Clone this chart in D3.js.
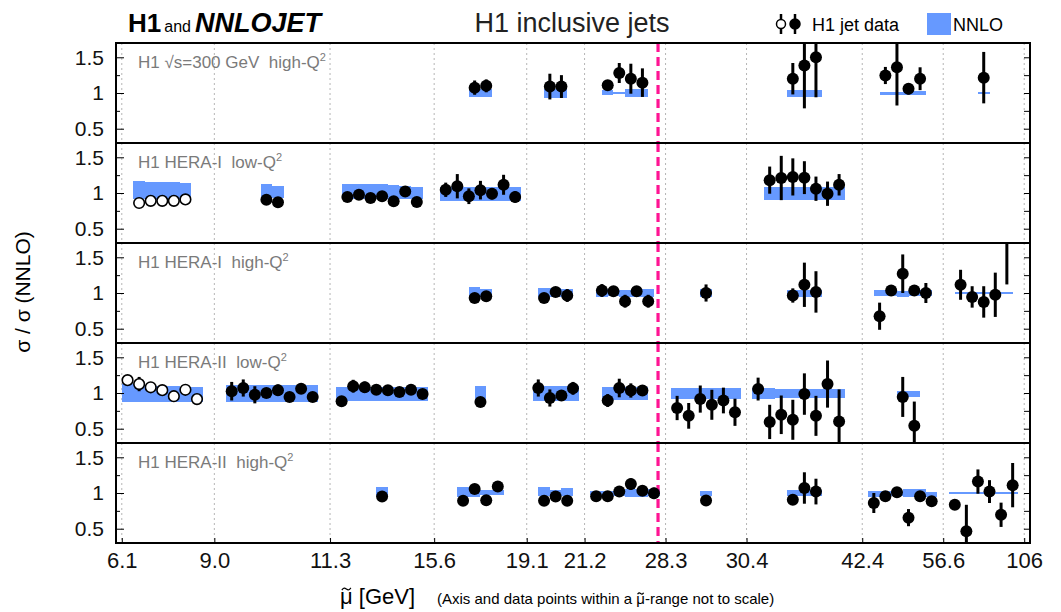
<!DOCTYPE html>
<html>
<head>
<meta charset="utf-8">
<script src="https://d3js.org/d3.v7.min.js"></script>
<style>
  body { margin: 0; background: #fff; }
  svg text { font-family: "Liberation Sans", Arial, Helvetica, sans-serif; }
</style>
</head>
<body>
<div id="chart"></div>
<script>
// mu-tilde bin edges; the axis is not to scale, positions are in "slots" (one slot per data point)
const edgeLabels = ["6.1", "9.0", "11.3", "15.6", "19.1", "21.2", "28.3", "30.4", "42.4", "56.6", "106"];
const edgeSlots = [0, 8, 18, 27, 35, 40, 47, 54, 64, 71, 78];
const scaleLineSlot = 46.35;   // the dashed line just below 28.3 GeV

const panelNames = ["H1 \u221As=300 GeV  high-Q", "H1 HERA-I  low-Q", "H1 HERA-I  high-Q",
                    "H1 HERA-II  low-Q", "H1 HERA-II  high-Q"];

// rows: [slot, data / NNLO, data error, NNLO band low, NNLO band high, open marker]
const h1_300_highQ2 = [
  [30, 1.075, 0.10, 0.94, 1.05], [31, 1.10, 0.09, 0.94, 1.05],
  [36.5, 1.09, 0.18, 0.935, 1.06], [37.5, 1.09, 0.16, 0.935, 1.06],
  [41.5, 1.11, 0.07, 0.97, 1.04], [42.5, 1.28, 0.14, 0.98, 1.01], [43.5, 1.20, 0.21, 0.94, 1.05], [44.5, 1.145, 0.20, 0.94, 1.05],
  [57.5, 1.20, 0.22, 0.95, 1.04], [58.5, 1.385, 0.60, 0.95, 1.04], [59.5, 1.50, 0.56, 0.95, 1.04],
  [65.5, 1.245, 0.12, 0.975, 1.02], [66.5, 1.36, 0.535, 0.975, 1.02], [67.5, 1.06, 0.08, 0.97, 1.03], [68.5, 1.20, 0.16, 0.97, 1.035],
  [74, 1.215, 0.36, 0.985, 1.01]
];
const heraI_lowQ2 = [
  [1, 0.86, 0.03, 0.92, 1.165, 1], [2, 0.89, 0.03, 0.92, 1.16, 1], [3, 0.89, 0.03, 0.92, 1.155, 1],
  [4, 0.89, 0.03, 0.92, 1.15, 1], [5, 0.91, 0.03, 0.92, 1.14, 1],
  [12, 0.905, 0.03, 0.93, 1.12], [13, 0.87, 0.03, 0.93, 1.10],
  [19, 0.945, 0.03, 0.92, 1.13], [20, 0.975, 0.03, 0.92, 1.13], [21, 0.93, 0.03, 0.92, 1.12], [22, 0.955, 0.03, 0.92, 1.12],
  [23, 0.885, 0.03, 0.92, 1.11], [24, 1.02, 0.06, 0.92, 1.10], [25, 0.875, 0.04, 0.92, 1.09],
  [27.5, 1.045, 0.10, 0.89, 1.09], [28.5, 1.095, 0.17, 0.89, 1.09], [29.5, 0.955, 0.11, 0.89, 1.09], [30.5, 1.04, 0.13, 0.89, 1.09],
  [31.5, 0.99, 0.08, 0.89, 1.09], [32.5, 1.115, 0.14, 0.89, 1.09], [33.5, 0.945, 0.08, 0.89, 1.09],
  [55.5, 1.18, 0.19, 0.90, 1.09], [56.5, 1.21, 0.31, 0.90, 1.09], [57.5, 1.225, 0.26, 0.90, 1.09], [58.5, 1.215, 0.23, 0.90, 1.09],
  [59.5, 1.06, 0.17, 0.90, 1.09], [60.5, 0.99, 0.17, 0.90, 1.09], [61.5, 1.115, 0.15, 0.90, 1.09]
];
const heraI_highQ2 = [
  [30, 0.93, 0.03, 0.94, 1.085], [31, 0.955, 0.03, 0.94, 1.055],
  [36, 0.93, 0.04, 0.95, 1.07], [37, 1.015, 0.03, 0.95, 1.07], [38, 0.965, 0.09, 0.95, 1.06],
  [41, 1.035, 0.09, 0.95, 1.06], [42, 1.025, 0.03, 0.96, 1.05], [43, 0.885, 0.09, 0.95, 1.04], [44, 1.025, 0.06, 0.95, 1.06], [45, 0.885, 0.09, 0.94, 1.06],
  [50, 1.0, 0.12, 0.945, 1.055],
  [57.5, 0.965, 0.10, 0.945, 1.045], [58.5, 1.115, 0.31, 0.945, 1.045], [59.5, 1.015, 0.29, 0.945, 1.045],
  [65, 0.675, 0.19, 0.955, 1.045], [66, 1.035, 0.03, 0.955, 1.045], [67, 1.27, 0.27, 0.94, 1.03], [68, 1.035, 0.03, 0.955, 1.045], [69, 1.0, 0.14, 0.955, 1.045],
  [72, 1.115, 0.21, 0.98, 1.01], [73, 0.945, 0.15, 0.98, 1.01], [74, 0.875, 0.22, 0.98, 1.01], [75, 0.975, 0.31, 0.98, 1.01], [76, 1.85, 0.73, 0.98, 1.01]
];
const heraII_lowQ2 = [
  [0, 1.18, 0.04, 0.87, 1.12, 1], [1, 1.125, 0.10, 0.87, 1.12, 1], [2, 1.08, 0.04, 0.87, 1.11, 1], [3, 1.04, 0.04, 0.87, 1.10, 1],
  [4, 0.955, 0.04, 0.87, 1.10, 1], [5, 1.045, 0.04, 0.87, 1.09, 1], [6, 0.915, 0.04, 0.87, 1.09, 1],
  [9, 1.025, 0.13, 0.875, 1.11], [10, 1.07, 0.12, 0.875, 1.11], [11, 0.975, 0.12, 0.875, 1.11], [12, 1.0, 0.07, 0.875, 1.11],
  [13, 1.04, 0.08, 0.875, 1.11], [14, 0.945, 0.06, 0.875, 1.11], [15, 1.06, 0.05, 0.875, 1.11], [16, 0.945, 0.06, 0.875, 1.11],
  [18.5, 0.885, 0.04, 0.89, 1.08], [19.5, 1.095, 0.09, 0.89, 1.08], [20.5, 1.08, 0.08, 0.89, 1.08], [21.5, 1.045, 0.04, 0.89, 1.08],
  [22.5, 1.04, 0.04, 0.89, 1.08], [23.5, 1.015, 0.04, 0.89, 1.08], [24.5, 1.045, 0.04, 0.89, 1.08], [25.5, 0.985, 0.04, 0.89, 1.08],
  [30.5, 0.875, 0.03, 0.905, 1.095],
  [35.5, 1.07, 0.12, 0.89, 1.095], [36.5, 0.93, 0.12, 0.89, 1.095], [37.5, 0.965, 0.05, 0.89, 1.095], [38.5, 1.065, 0.09, 0.89, 1.095],
  [41.5, 0.895, 0.09, 0.905, 1.09], [42.5, 1.07, 0.13, 0.905, 1.09], [43.5, 1.035, 0.10, 0.905, 1.09], [44.5, 1.035, 0.07, 0.905, 1.09],
  [47.5, 0.79, 0.17, 0.91, 1.07], [48.5, 0.68, 0.18, 0.91, 1.07], [49.5, 0.915, 0.19, 0.91, 1.07],
  [50.5, 0.835, 0.21, 0.91, 1.07], [51.5, 0.895, 0.18, 0.91, 1.07], [52.5, 0.73, 0.19, 0.91, 1.07],
  [54.5, 1.055, 0.16, 0.92, 1.07], [55.5, 0.595, 0.24, 0.92, 1.07], [56.5, 0.695, 0.27, 0.93, 1.05], [57.5, 0.625, 0.28, 0.93, 1.05],
  [58.5, 0.985, 0.29, 0.93, 1.05], [59.5, 0.68, 0.28, 0.93, 1.05], [60.5, 1.125, 0.33, 0.93, 1.05], [61.5, 0.60, 0.45, 0.93, 1.05],
  [67, 0.945, 0.28, 0.95, 1.03], [68, 0.54, 0.34, 0.95, 1.03]
];
const heraII_highQ2 = [
  [22, 0.95, 0.03, 0.96, 1.08],
  [29, 0.89, 0.03, 0.95, 1.09], [30, 1.055, 0.03, 0.95, 1.09], [31, 0.90, 0.03, 0.97, 1.04], [32, 1.09, 0.03, 0.97, 1.04],
  [36, 0.89, 0.03, 0.96, 1.08], [37, 0.95, 0.03, 0.96, 1.045], [38, 0.89, 0.03, 0.96, 1.065],
  [40.5, 0.955, 0.03, 0.97, 1.03], [41.5, 0.955, 0.03, 0.97, 1.03], [42.5, 1.02, 0.03, 0.96, 1.03],
  [43.5, 1.125, 0.08, 0.95, 1.06], [44.5, 1.03, 0.03, 0.95, 1.06], [45.5, 0.995, 0.08, 0.96, 1.06],
  [50, 0.895, 0.03, 0.955, 1.03],
  [57.5, 0.905, 0.04, 0.955, 1.045], [58.5, 1.07, 0.22, 0.955, 1.045], [59.5, 1.02, 0.18, 0.955, 1.045],
  [64.5, 0.86, 0.14, 0.95, 1.03], [65.5, 0.955, 0.03, 0.95, 1.03], [66.5, 1.01, 0.03, 0.96, 1.03],
  [67.5, 0.655, 0.12, 0.94, 1.05], [68.5, 0.955, 0.03, 0.94, 1.05], [69.5, 0.885, 0.03, 0.95, 1.02],
  [71.5, 0.835, 0.04, 0.98, 1.015], [72.5, 0.465, 0.37, 0.98, 1.015], [73.5, 1.16, 0.17, 0.98, 1.015],
  [74.5, 1.02, 0.16, 0.98, 1.015], [75.5, 0.695, 0.17, 0.98, 1.015], [76.5, 1.11, 0.31, 0.98, 1.015]
];
const panels = [h1_300_highQ2, heraI_lowQ2, heraI_highQ2, heraII_lowQ2, heraII_highQ2];

const yMajor = [0.5, 1, 1.5];
const yMinor = [0.75, 1.25];

const width = 1061, height = 612;
const plot = {left: 116, right: 1030, top: 43},
  panelH = 100;
const nnloBlue = "#6699ff";

const svg = d3.select("#chart")
  .append("svg")
  .attr("width", width)
  .attr("height", height);

// slot k covers [k, k+1] on this scale, its point sits in the middle
const x = d3.scaleLinear()
  .domain([-0.5, 78.5])
  .range([plot.left, plot.right]);
const mid = s => x(s + 0.5);

panels.forEach(function (rows, i) {
  const top = plot.top + i * panelH;
  const y = d3.scaleLinear().domain([0.3, 1.7]).range([top + panelH, top]);
  const g = svg.append("g");

  svg.append("clipPath").attr("id", "clip" + i)
    .append("rect")
    .attr("x", plot.left).attr("y", top)
    .attr("width", plot.right - plot.left).attr("height", panelH);

  // dotted lines at the bin edges
  g.selectAll(".grid")
    .data(edgeSlots)
    .join("line")
    .attr("x1", d => x(d)).attr("x2", d => x(d))
    .attr("y1", top).attr("y2", top + panelH)
    .style("stroke", "#b5b5b5")
    .style("stroke-width", 1)
    .style("stroke-dasharray", "2,3");

  const inner = g.append("g").attr("clip-path", `url(#clip${i})`);

  // NNLO bands, one cell per data point
  inner.selectAll("rect")
    .data(rows)
    .join("rect")
    .attr("x", d => x(d[0]))
    .attr("width", d => x(d[0] + 1) - x(d[0]))
    .attr("y", d => y(d[4]))
    .attr("height", d => y(d[3]) - y(d[4]))
    .attr("shape-rendering", "crispEdges")
    .style("fill", nnloBlue);

  // the line where the scale changes
  inner.append("line")
    .attr("x1", x(scaleLineSlot)).attr("x2", x(scaleLineSlot))
    .attr("y1", top).attr("y2", top + panelH)
    .style("stroke", "#ff1493")
    .style("stroke-width", 3.2)
    .style("stroke-dasharray", "9,5");

  inner.selectAll(".err")
    .data(rows)
    .join("line")
    .attr("x1", d => mid(d[0])).attr("x2", d => mid(d[0]))
    .attr("y1", d => y(d[1] - d[2])).attr("y2", d => y(d[1] + d[2]))
    .style("stroke", "black")
    .style("stroke-width", 3);

  inner.selectAll("circle")
    .data(rows)
    .join("circle")
    .attr("cx", d => mid(d[0]))
    .attr("cy", d => y(d[1]))
    .attr("r", d => d[5] ? 5.3 : 6)
    .style("fill", d => d[5] ? "white" : "black")
    .style("stroke", "black")
    .style("stroke-width", d => d[5] ? 1.6 : 0);

  // y axes: labels on the left, ticks inside on both sides
  g.append("g")
    .attr("transform", `translate(${plot.left},0)`)
    .call(d3.axisLeft(y).tickValues(yMajor).tickSize(-8).tickPadding(12).tickFormat(d => String(d)))
    .call(a => a.select(".domain").remove())
    .call(a => a.selectAll("text").style("font-size", "21px").attr("fill", "#111"));
  g.append("g")
    .attr("transform", `translate(${plot.left},0)`)
    .call(d3.axisLeft(y).tickValues(yMinor).tickSize(-4).tickFormat(""))
    .call(a => a.select(".domain").remove());
  g.append("g")
    .attr("transform", `translate(${plot.right},0)`)
    .call(d3.axisRight(y).tickValues(yMajor.concat(yMinor)).tickSize(-6).tickFormat(""))
    .call(a => a.select(".domain").remove());

  g.append("rect")
    .attr("x", plot.left).attr("y", top)
    .attr("width", plot.right - plot.left).attr("height", panelH)
    .style("fill", "none")
    .style("stroke", "black")
    .style("stroke-width", 2);

  const lab = g.append("text")
    .attr("x", 138).attr("y", top + 25)
    .style("font-size", "17px")
    .style("fill", "#7a7a7a")
    .style("white-space", "pre")
    .text(panelNames[i]);
  lab.append("tspan").attr("dy", -7).style("font-size", "11px").text("2");
});

// x axis with the bin-edge labels
const bottom = plot.top + 5 * panelH;
svg.append("g")
  .attr("transform", `translate(0,${bottom})`)
  .call(d3.axisBottom(x).tickValues(edgeSlots).tickSize(-5).tickPadding(9)
    .tickFormat((d, i) => edgeLabels[i]))
  .call(a => a.select(".domain").remove())
  .call(a => a.selectAll("text").style("font-size", "22px").attr("fill", "#111"));

// draws a small tilde (as a path) over character k of a text element
const tildeLine = d3.line().curve(d3.curveBasis);
function tildeOver(sel, k, w, h, lift) {
  const b = sel.node().getExtentOfChar(k);
  const cx = b.x + b.width / 2, cy = b.y + lift;
  svg.append("path")
    .attr("d", tildeLine([[cx - w / 2, cy + h / 2], [cx - w / 4, cy - h], [cx + w / 4, cy + h], [cx + w / 2, cy - h / 2]]))
    .style("fill", "none")
    .style("stroke", "black")
    .style("stroke-width", 1.2);
}

const xTitle = svg.append("text")
  .attr("x", 340).attr("y", 604)
  .style("font-size", "22px")
  .text("\u03BC [GeV]");
tildeOver(xTitle, 0, 9, 2.2, 5);

const xNote = svg.append("text")
  .attr("x", 437).attr("y", 604)
  .style("font-size", "15px")
  .text("(Axis and data points within a \u03BC-range not to scale)");
tildeOver(xNote, 31, 6, 1.5, 3.5);

svg.append("text")
  .attr("transform", "translate(30,292) rotate(-90)")
  .attr("text-anchor", "middle")
  .style("font-size", "21px")
  .text("\u03C3 / \u03C3 (NNLO)");

// header
const head = svg.append("text").attr("x", 128).attr("y", 32);
head.append("tspan").style("font-size", "26px").style("font-weight", "bold").text("H1");
head.append("tspan").attr("dx", 3).style("font-size", "16px").text("and");
head.append("tspan").attr("dx", 4).style("font-size", "27px").style("font-weight", "bold")
  .style("font-style", "italic").text("NNLOJET");

svg.append("text")
  .attr("x", 572).attr("y", 32)
  .attr("text-anchor", "middle")
  .style("font-size", "27px")
  .style("fill", "#222")
  .text("H1 inclusive jets");

// legend
const leg = svg.append("g");
[[781, 1], [795, 0]].forEach(function (m) {
  leg.append("line")
    .attr("x1", m[0]).attr("x2", m[0]).attr("y1", 14).attr("y2", 34)
    .style("stroke", "black").style("stroke-width", 2.5);
  leg.append("circle")
    .attr("cx", m[0]).attr("cy", 24).attr("r", m[1] ? 4.5 : 5)
    .style("fill", m[1] ? "white" : "black")
    .style("stroke", "black").style("stroke-width", 1.5);
});
leg.append("text").attr("x", 812).attr("y", 31).style("font-size", "18px").text("H1 jet data");
leg.append("rect").attr("x", 927).attr("y", 13).attr("width", 24).attr("height", 22).style("fill", nnloBlue);
leg.append("text").attr("x", 953).attr("y", 31).style("font-size", "18px").text("NNLO");
</script>
</body>
</html>
